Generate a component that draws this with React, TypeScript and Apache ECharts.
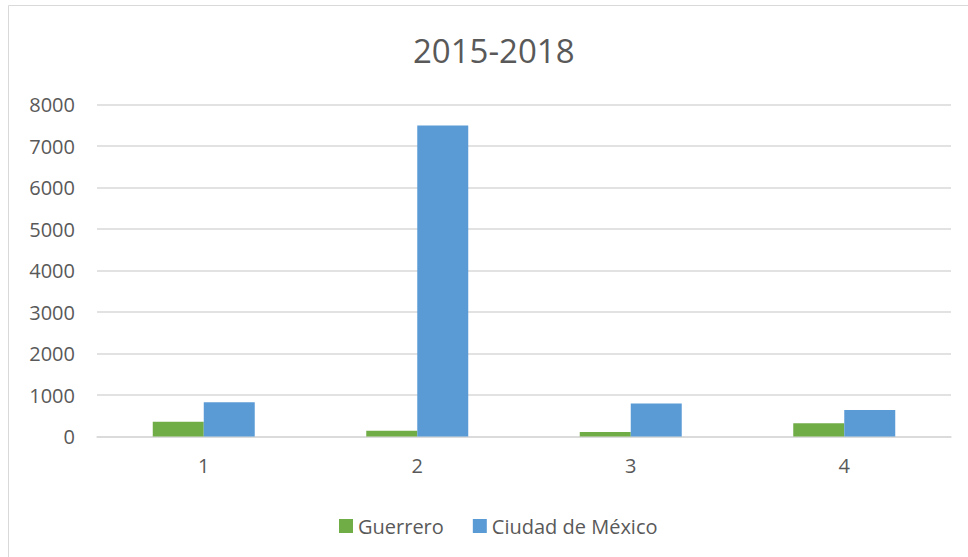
import React, { useEffect, useRef } from "react";
import * as echarts from "echarts";

const categories = ["1", "2", "3", "4"];
const guerrero = [358, 140, 109, 319];
const cdmx = [828, 7500, 794, 640];
const seriesNames = ["Guerrero", "Ciudad de México"];
const titleText = "2015-2018";

export default function App() {
  const ref = useRef<HTMLDivElement>(null);
  useEffect(() => {
    document.body.style.margin = "0";
    const chart = echarts.init(ref.current!, null, { renderer: "svg" });
    const font = "'Open Sans', 'Noto Sans', sans-serif";
    chart.setOption({
      animation: false,
      backgroundColor: "#ffffff",
      textStyle: { fontFamily: font, color: "#595959" },
      title: {
        text: titleText,
        left: 408,
        top: 29,
        textStyle: { fontFamily: font, fontSize: 33, fontWeight: "normal", color: "#595959" },
      },
      graphic: [
        {
          type: "rect",
          shape: { x: 8.5, y: 5.5, width: 1200, height: 1200 },
          style: { fill: "none", stroke: "#d9d9d9", lineWidth: 1 },
          silent: true,
        },
      ],
      legend: {
        left: 334,
        top: 511,
        itemWidth: 14,
        itemHeight: 14,
        itemGap: 29,
        icon: "rect",
        textStyle: { fontFamily: font, fontSize: 20, color: "#595959", padding: [0, 0, 0, 0] },
        data: seriesNames,
      },
      grid: { left: 97, right: 17, top: 104.7, bottom: 120.5, containLabel: false },
      xAxis: {
        type: "category",
        data: categories,
        axisLine: { lineStyle: { color: "#d9d9d9", width: 1.5 } },
        axisTick: { show: false },
        axisLabel: { fontFamily: font, fontSize: 20, color: "#595959", margin: 19 },
      },
      yAxis: {
        type: "value",
        min: 0,
        max: 8000,
        interval: 1000,
        axisLine: { show: false },
        axisTick: { show: false },
        splitLine: { lineStyle: { color: "#d9d9d9", width: 1.5 } },
        axisLabel: {
          fontFamily: font,
          fontSize: 20,
          color: "#595959",
          margin: 22,
          formatter: (v: number) => String(v),
        },
      },
      series: [
        {
          name: seriesNames[0],
          type: "bar",
          data: guerrero,
          barWidth: 51,
          barGap: "0%",
          itemStyle: { color: "#70AD47" },
        },
        {
          name: seriesNames[1],
          type: "bar",
          data: cdmx,
          barWidth: 51,
          barGap: "0%",
          itemStyle: { color: "#5B9BD5" },
        },
      ],
    });
    return () => chart.dispose();
  }, []);
  return <div ref={ref} style={{ width: 968, height: 557 }} />;
}
